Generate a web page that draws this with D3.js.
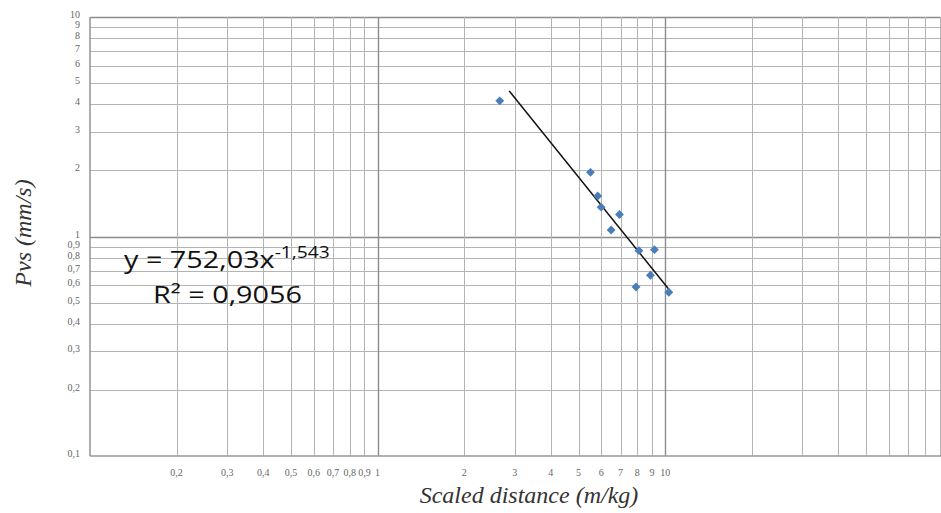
<!DOCTYPE html>
<html>
<head>
<meta charset="utf-8">
<script src="https://d3js.org/d3.v7.min.js"></script>
<style>
  body { margin: 0; background: #fff; }
  svg { display: block; }
  .serif { font-family: "Liberation Serif", "Times New Roman", "DejaVu Serif", Times, serif; }
  .sans { font-family: "Open Sans", "Noto Sans", "DejaVu Sans", sans-serif; }
</style>
</head>
<body>
<svg id="chart" width="941" height="513"></svg>
<script>
// scaled distance (m/kg) vs peak vector sum (mm/s)
const pointsX = [2.66, 5.50, 5.83, 5.99, 6.94, 6.49, 8.11, 9.18, 8.89, 7.92, 10.3];
const pointsY = [4.15, 1.96, 1.53, 1.36, 1.26, 1.07, 0.862, 0.871, 0.666, 0.589, 0.557];
// power trend line, end points
const trendX = [2.87, 10.3];
const trendY = [4.60, 0.575];

const xTicks = [0.2, 0.3, 0.4, 0.5, 0.6, 0.7, 0.8, 0.9, 1, 2, 3, 4, 5, 6, 7, 8, 9, 10];
const xGrid = [0.2, 0.3, 0.4, 0.5, 0.6, 0.7, 0.8, 0.9, 1, 2, 3, 4, 5, 6, 7, 8, 9, 10,
               20, 30, 40, 50, 60, 70, 80, 90];
const yTicks = [0.1, 0.2, 0.3, 0.4, 0.5, 0.6, 0.7, 0.8, 0.9, 1, 2, 3, 4, 5, 6, 7, 8, 9, 10];

const eqText = "y = 752,03x";
const eqExp = "-1,543";
const r2Text = "R² = 0,9056";

const svg = d3.select("#chart");
svg.append("rect").attr("width", 941).attr("height", 513).attr("fill", "#fff");

const plotL = 90, plotT = 17, plotB = 456;
const x = d3.scaleLog().domain([0.1, 100]).range([plotL, 952.7]);
const y = d3.scaleLog().domain([0.1, 10]).range([plotB, plotT]);
const fmt = d => String(d).replace(".", ",");
const isDecade = d => d === 1 || d === 10;

// grid
const grid = svg.append("g").attr("class", "grid");
grid.selectAll("line.h")
    .data(yTicks.filter(d => d > 0.1))
    .enter().append("line")
      .attr("class", "h")
      .attr("x1", plotL).attr("x2", 941)
      .attr("y1", d => Math.round(y(d)) + 0.5)
      .attr("y2", d => Math.round(y(d)) + 0.5)
      .attr("stroke", d => isDecade(d) ? "#8c8c8c" : "#b4b4b4")
      .attr("stroke-width", d => isDecade(d) ? 1.4 : 1);
grid.selectAll("line.v")
    .data(xGrid)
    .enter().append("line")
      .attr("class", "v")
      .attr("x1", d => Math.round(x(d)) + 0.5)
      .attr("x2", d => Math.round(x(d)) + 0.5)
      .attr("y1", plotT).attr("y2", plotB)
      .attr("stroke", d => isDecade(d) ? "#8c8c8c" : "#b4b4b4")
      .attr("stroke-width", d => isDecade(d) ? 1.4 : 1);

// frame (left + bottom axis)
svg.append("line")
    .attr("x1", plotL).attr("x2", plotL).attr("y1", plotT).attr("y2", plotB)
    .attr("stroke", "#999").attr("stroke-width", 1.6);
svg.append("line")
    .attr("x1", plotL).attr("x2", 941).attr("y1", plotB).attr("y2", plotB)
    .attr("stroke", "#999").attr("stroke-width", 1.6);

// tick labels
svg.append("g").selectAll("text")
    .data(yTicks)
    .enter().append("text")
      .attr("class", "serif")
      .attr("x", 80)
      .attr("y", d => y(d) + 1)
      .attr("text-anchor", "end")
      .attr("font-size", 10)
      .attr("fill", "#666")
      .text(fmt);
svg.append("g").selectAll("text")
    .data(xTicks)
    .enter().append("text")
      .attr("class", "serif")
      .attr("x", d => x(d))
      .attr("y", 476)
      .attr("text-anchor", "middle")
      .attr("font-size", 10)
      .attr("fill", "#666")
      .text(fmt);

// axis titles
svg.append("text")
    .attr("class", "serif")
    .attr("x", 529).attr("y", 503)
    .attr("text-anchor", "middle")
    .attr("font-style", "italic")
    .attr("font-size", 24)
    .attr("fill", "#333")
    .text("Scaled distance (m/kg)");
svg.append("text")
    .attr("class", "serif")
    .attr("transform", "translate(31,233) rotate(-90)")
    .attr("text-anchor", "middle")
    .attr("font-style", "italic")
    .attr("font-size", 24)
    .attr("fill", "#333")
    .text("Pvs (mm/s)");

// trend line
const trend = trendX.map((d, i) => [d, trendY[i]]);
svg.append("path")
    .datum(trend)
    .attr("d", d3.line().x(d => x(d[0])).y(d => y(d[1])))
    .attr("stroke", "#111").attr("stroke-width", 1.5).attr("fill", "none");

// points
const pts = pointsX.map((d, i) => [d, pointsY[i]]);
svg.append("g").selectAll("path")
    .data(pts)
    .enter().append("path")
      .attr("d", d3.symbol().type(d3.symbolDiamond2).size(50))
      .attr("transform", d => `translate(${x(d[0])},${y(d[1])})`)
      .attr("fill", "#4a7ebb");

// equation (text in the picture is a bit wide, stretch it horizontally)
const eq = svg.append("text")
    .attr("class", "sans")
    .attr("transform", "translate(124,268) scale(1.2,1)")
    .attr("font-size", 24)
    .attr("fill", "#111");
eq.append("tspan").text(eqText);
eq.append("tspan").attr("dy", -10).attr("font-size", 16).text(eqExp);
svg.append("text")
    .attr("class", "sans")
    .attr("transform", "translate(153,303) scale(1.2,1)")
    .attr("font-size", 24)
    .attr("fill", "#111")
    .text(r2Text);
</script>
</body>
</html>
